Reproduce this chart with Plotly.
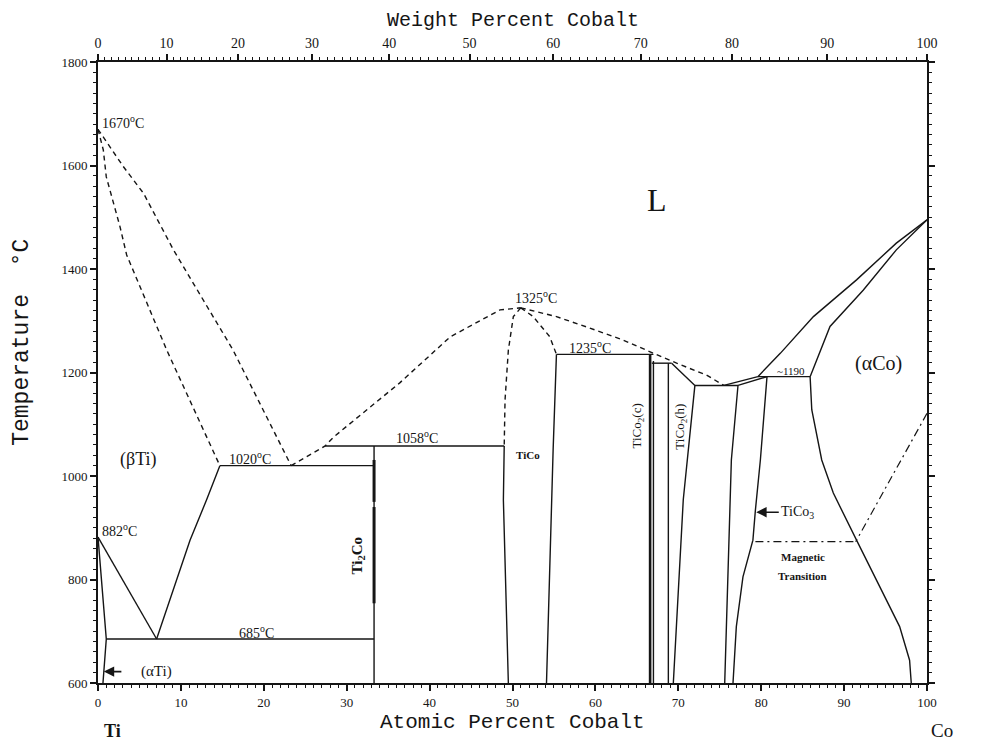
import plotly.graph_objects as go

# ---------------- data (atomic % Co, temperature degC) ----------------
liq_Ti_x = [0, 3.05, 5.5, 7.7, 9.1, 16.3, 23.3]
liq_Ti_T = [1670, 1598, 1546, 1479, 1437, 1243, 1020]
sol_Ti_x = [0, 0.64, 1.0, 2.65, 3.46, 8.3, 14.7]
sol_Ti_T = [1670, 1630, 1578, 1482, 1427, 1243, 1020]

transus_x = [0, 7.07]
transus_T = [882, 685]
beta_solvus_x = [7.07, 11.1, 13.1, 14.7]
beta_solvus_T = [685, 876, 954, 1020]
alpha_solvus_x = [0, 1.0, 0.6]
alpha_solvus_T = [882, 685, 600]

eutectoid_x = [1.0, 33.3]
eutectoid_T = [685, 685]
eutectic1_x = [14.7, 33.3]
eutectic1_T = [1020, 1020]
ti2co_x = [33.3, 33.3]
ti2co_T = [600, 1058]
ti2co_bold1_T = [950, 1031]
ti2co_bold2_T = [754, 940]
peritectic1_x = [27.4, 49.0]
peritectic1_T = [1058, 1058]

liq_mid_x = [23.3, 27.4, 28.4, 36.4, 42.5, 48.5, 51.0]
liq_mid_T = [1020, 1058, 1075, 1180, 1269, 1321, 1325]
tico_left_dash_x = [51.0, 50.1, 49.5, 49.1, 49.0]
tico_left_dash_T = [1325, 1308, 1243, 1147, 1058]
tico_left_x = [49.0, 48.9, 49.5]
tico_left_T = [1058, 954, 600]
tico_right_dash_x = [51.0, 52.5, 54.5, 55.3]
tico_right_dash_T = [1325, 1308, 1269, 1235]
tico_right_x = [55.3, 54.9, 54.1]
tico_right_T = [1235, 1050, 600]
liq_right_x = [51.0, 55.3, 59.3, 63.3, 66.6, 69.8, 73.4, 75.5]
liq_right_T = [1325, 1308, 1286, 1263, 1240, 1218, 1195, 1175]

peritectic2_x = [55.3, 67.0]
peritectic2_T = [1235, 1235]
tico2c_a_x = [66.6, 66.6]
tico2c_a_T = [600, 1235]
tico2c_b_x = [67.0, 67.0]
tico2c_b_T = [600, 1222]
tico2_trans_x = [66.8, 69.2]
tico2_trans_T = [1218, 1218]
tico2h_left_x = [68.8, 68.8]
tico2h_left_T = [600, 1218]
tico2h_right_x = [69.2, 72.0, 70.6, 69.4]
tico2h_right_T = [1218, 1175, 954, 600]
eutectic2_x = [72.0, 77.2]
eutectic2_T = [1175, 1175]

tico3_left_x = [77.2, 76.4, 75.6]
tico3_left_T = [1175, 1031, 600]
tico3_right_x = [80.7, 80.1, 79.9, 79.3, 79.0, 77.8, 77.0, 76.6]
tico3_right_T = [1192, 1070, 1031, 934, 876, 805, 709, 600]
tico3_top_x = [77.2, 80.7]
tico3_top_T = [1175, 1192]
liq_e2_x = [75.5, 77.5, 79.6]
liq_e2_T = [1175, 1183, 1192]
peritectic3_x = [79.6, 85.9]
peritectic3_T = [1192, 1192]

liq_Co_x = [79.6, 82.3, 86.3, 91.5, 96.3, 100]
liq_Co_T = [1192, 1237, 1308, 1379, 1450, 1495]
sol_Co_x = [85.9, 88.3, 92.3, 96.3, 100]
sol_Co_T = [1192, 1289, 1359, 1437, 1495]
solvus_Co_x = [85.9, 86.1, 87.3, 88.7, 91.5, 94.3, 96.7, 97.9, 98.1]
solvus_Co_T = [1192, 1128, 1031, 967, 876, 786, 709, 644, 600]
curie_x = [100, 91.4]
curie_T = [1121, 873]
magnetic_x = [79.3, 91.4]
magnetic_T = [873, 873]

# tick labels
at_ticks = list(range(0, 101, 10))
wt_ticks = list(range(0, 101, 10))
temp_ticks = list(range(600, 1801, 200))
M_TI, M_CO = 47.867, 58.933


def wt_to_at(w):
    if w <= 0:
        return 0.0
    if w >= 100:
        return 100.0
    a = w / M_CO
    b = (100 - w) / M_TI
    return 100 * a / (a + b)


fig = go.Figure()
INK = "#151515"


def line(xs, ys, dash="solid", width=1.4):
    fig.add_trace(go.Scatter(x=xs, y=ys, mode="lines", hoverinfo="skip",
                             line=dict(color=INK, width=width, dash=dash),
                             showlegend=False))


DASH = "5px,4px"
line(liq_Ti_x, liq_Ti_T, DASH)
line(sol_Ti_x, sol_Ti_T, DASH)
line(transus_x, transus_T)
line(beta_solvus_x, beta_solvus_T)
line(alpha_solvus_x, alpha_solvus_T)
line(eutectoid_x, eutectoid_T)
line(eutectic1_x, eutectic1_T)
line(ti2co_x, ti2co_T)
line([33.3, 33.3], ti2co_bold1_T, width=3)
line([33.3, 33.3], ti2co_bold2_T, width=3)
line(peritectic1_x, peritectic1_T)
line(liq_mid_x, liq_mid_T, DASH)
line(tico_left_dash_x, tico_left_dash_T, DASH)
line(tico_left_x, tico_left_T)
line(tico_right_dash_x, tico_right_dash_T, DASH)
line(tico_right_x, tico_right_T)
line(liq_right_x, liq_right_T, DASH)
line(peritectic2_x, peritectic2_T)
line(tico2c_a_x, tico2c_a_T, width=2.6)
line(tico2c_b_x, tico2c_b_T)
line(tico2_trans_x, tico2_trans_T)
line(tico2h_left_x, tico2h_left_T)
line(tico2h_right_x, tico2h_right_T)
line(eutectic2_x, eutectic2_T)
line(tico3_left_x, tico3_left_T)
line(tico3_right_x, tico3_right_T)
line(tico3_top_x, tico3_top_T)
line(liq_e2_x, liq_e2_T)
line(peritectic3_x, peritectic3_T)
line(liq_Co_x, liq_Co_T)
line(sol_Co_x, sol_Co_T)
line(solvus_Co_x, solvus_Co_T)
line(curie_x, curie_T, "8px,4px,2px,4px", 1.2)
line(magnetic_x, magnetic_T, "8px,4px,2px,4px", 1.2)

# dummy trace on the top axis
fig.add_trace(go.Scatter(x=[0, 100], y=[600, 600], xaxis="x2", mode="lines",
                         line=dict(width=0), hoverinfo="skip", showlegend=False))

SERIF = "Liberation Serif"
MONO = "Liberation Mono"
ann = []


def txt(x, y, s, size=14, xanchor="center", angle=0, family=SERIF, ref="data"):
    d = dict(x=x, y=y, text=s, showarrow=False, xanchor=xanchor, yanchor="middle",
             textangle=angle, font=dict(family=family, size=size, color=INK))
    if ref == "data":
        d.update(xref="x", yref="y")
    else:
        d.update(xref="paper", yref="paper")
    ann.append(d)


txt(0.3, 1684, "1670<sup>o</sup>C", 14, "left")
txt(0.3, 896, "882<sup>o</sup>C", 14, "left")
txt(19.1, 699, "685<sup>o</sup>C", 14)
txt(18.3, 1035, "1020<sup>o</sup>C", 14)
txt(38.5, 1076, "1058<sup>o</sup>C", 14)
txt(52.8, 1346, "1325<sup>o</sup>C", 14)
txt(59.4, 1250, "1235<sup>o</sup>C", 14)
txt(83.6, 1203, "~1190", 11)
txt(100.3, 1508, "1495<sup>o</sup>C", 14, "left")
txt(100.8, 1134, "1121<sup>o</sup>C", 14, "left")
txt(4.9, 1031, "(βTi)", 18)
txt(94.1, 1218, "(αCo)", 20)
txt(67.4, 1533, "L", 32)
txt(51.9, 1041, "<b>TiCo</b>", 11)
txt(31.4, 847, "<b>Ti<sub>2</sub>Co</b>", 15, angle=-90)
txt(65.1, 1097, "TiCo<sub>2</sub>(c)", 13, angle=-90)
txt(70.3, 1095, "TiCo<sub>2</sub>(h)", 13, angle=-90)
txt(85.0, 844, "<b>Magnetic</b>", 11)
txt(85.0, 806, "<b>Transition</b>", 11)
txt(84.4, 930, "TiCo<sub>3</sub>", 14)
txt(7.1, 622, "(αTi)", 15)

# arrows
ann.append(dict(x=79.4, y=930, ax=82.3, ay=930, xref="x", yref="y", axref="x", ayref="y",
                showarrow=True, arrowhead=2, arrowsize=1.3, arrowwidth=1.6, arrowcolor=INK, text=""))
ann.append(dict(x=0.7, y=622, ax=3.0, ay=622, xref="x", yref="y", axref="x", ayref="y",
                showarrow=True, arrowhead=2, arrowsize=1.3, arrowwidth=1.6, arrowcolor=INK, text=""))

# axis titles
txt(0.5, 1.0676, "Weight Percent Cobalt", 20, family=MONO, ref="paper")
txt(0.5, -0.064, "Atomic Percent Cobalt", 21, family=MONO, ref="paper")
txt(-0.092, 0.549, "Temperature  °C", 23, angle=-90, family=MONO, ref="paper")
txt(0.018, -0.077, "<b>Ti</b>", 18, ref="paper")
txt(1.018, -0.077, "Co", 19, ref="paper")

# the page adds an 8px body margin, so the figure is drawn 8px smaller
fig.update_layout(
    width=985, height=734, autosize=False,
    margin=dict(l=90, r=66, t=54, b=59),
    paper_bgcolor="white", plot_bgcolor="white",
    annotations=ann,
    xaxis=dict(range=[0, 100], tickvals=at_ticks, ticktext=[str(v) for v in at_ticks],
               showgrid=False, zeroline=False, showline=True, linecolor=INK, linewidth=2,
               ticks="outside", ticklen=6, tickwidth=1.5, tickcolor=INK,
               minor=dict(dtick=1, ticklen=3, tickcolor=INK, tickwidth=1, ticks="outside"),
               tickfont=dict(family=SERIF, size=13, color=INK)),
    xaxis2=dict(range=[0, 100], overlaying="x", side="top",
                tickvals=[wt_to_at(w) for w in wt_ticks], ticktext=[str(w) for w in wt_ticks],
                showgrid=False, zeroline=False, showline=True, linecolor=INK, linewidth=2,
                ticks="outside", ticklen=6, tickwidth=1.5, tickcolor=INK,
                minor=dict(tickmode="array", tickvals=[wt_to_at(w) for w in range(0, 101)],
                           ticklen=3, tickcolor=INK, tickwidth=1, ticks="outside"),
                tickfont=dict(family=SERIF, size=14, color=INK)),
    yaxis=dict(range=[600, 1800], tickvals=temp_ticks, ticktext=[str(v) for v in temp_ticks],
               showgrid=False, zeroline=False, showline=True, linecolor=INK, linewidth=2,
               mirror="ticks", ticks="outside", ticklen=6, tickwidth=1.5, tickcolor=INK,
               minor=dict(dtick=20, ticklen=3, tickcolor=INK, tickwidth=1, ticks="outside"),
               tickfont=dict(family=SERIF, size=13, color=INK)),
)

fig.write_html("out.html")
